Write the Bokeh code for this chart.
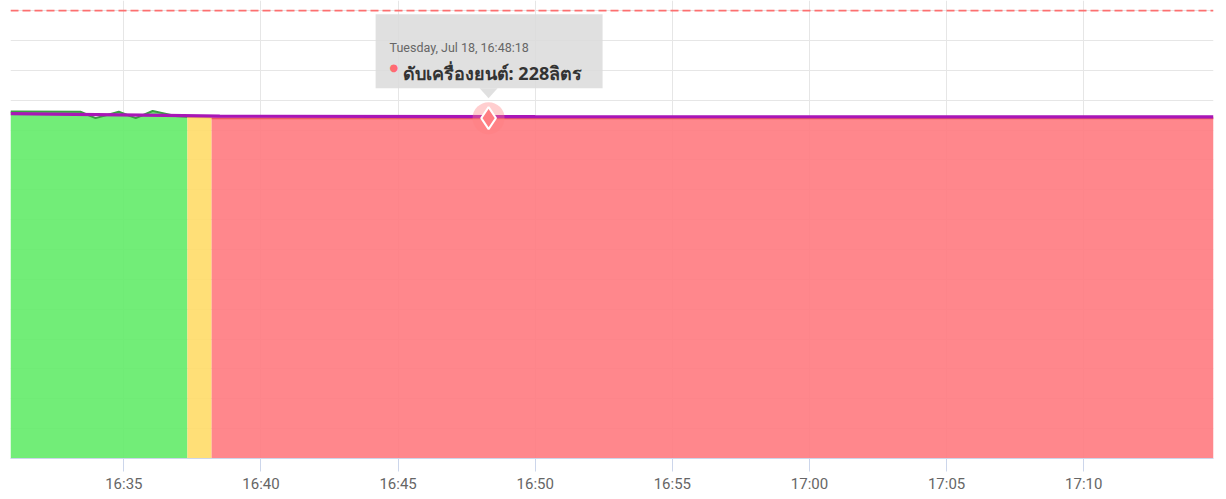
import datetime as dt
from bokeh.plotting import figure
from bokeh.models import Span, FixedTicker, DatetimeTickFormatter, Range1d
from bokeh.core.properties import value
from bokeh.embed import file_html
from bokeh.resources import INLINE

DAY = (2023, 7, 18)
EPOCH = dt.datetime(1970, 1, 1)

def T(s):
    h, m, sec = [int(v) for v in s.split(":")]
    return dt.datetime(*DAY, h, m, sec)

def ms(d):
    return (d - EPOCH).total_seconds() * 1000

# ---- data (litres) ----
green_times = ["16:30:52", "16:33:25", "16:33:58", "16:34:49", "16:35:26", "16:36:03", "16:36:53", "16:37:19"]
green_vals = [232.5, 232.3, 228.0, 232.3, 228.0, 232.8, 229.5, 229.0]
yellow_times = ["16:37:19", "16:38:12"]
yellow_vals = [228.8, 228.5]
red_times = ["16:38:12", "17:14:44"]
red_vals = [228.0, 228.0]
fuel_times = ["16:30:52", "16:34:00", "16:36:30", "16:38:30", "16:50:00", "17:14:44"]
fuel_vals = [231.0, 230.4, 229.8, 229.3, 229.0, 228.8]
capacity = 300
tick_times = ["16:35:00", "16:40:00", "16:45:00", "16:50:00", "16:55:00", "17:00:00", "17:05:00", "17:10:00"]
y_ticks = list(range(0, 301, 20))
tip_time = "16:48:18"
tip_val = 228
tip_title = "Tuesday, Jul 18, 16:48:18"
tip_text = "ดับเครื่องยนต์: 228ลิตร"

x_start, x_end = T("16:30:52"), T("17:14:44")
y_top = 306.8

W, H = 1226, 499
BL, BR, BT, BB = 10, 13, 0, 41
p = figure(width=W, height=H, x_axis_type="datetime", output_backend="svg",
           toolbar_location=None, x_range=Range1d(x_start, x_end),
           y_range=Range1d(0, y_top),
           min_border_left=BL, min_border_right=BR, min_border_top=BT, min_border_bottom=BB)
p.outline_line_color = None
p.background_fill_color = "white"
p.border_fill_color = "white"

frame_w = W - BL - BR
frame_h = H - BT - BB
ms_per_px = (x_end - x_start).total_seconds() * 1000 / frame_w
val_per_px = y_top / frame_h

# grid/axes
p.yaxis.visible = False
p.yaxis.ticker = FixedTicker(ticks=y_ticks)
p.ygrid.grid_line_color = "#e6e6e6"
p.xgrid.grid_line_color = "#e6e6e6"
p.xaxis.ticker = FixedTicker(ticks=[ms(T(t)) for t in tick_times])
p.xaxis.formatter = DatetimeTickFormatter(minutes="%H:%M", hours="%H:%M", minsec="%H:%M", seconds="%H:%M")
p.xaxis.axis_line_color = "#ccd6eb"
p.xaxis.major_tick_line_color = "#ccd6eb"
p.xaxis.major_tick_out = 13
p.xaxis.major_tick_in = 0
p.xaxis.minor_tick_line_color = None
p.xaxis.major_label_text_color = "#666666"
p.xaxis.major_label_text_font = "Roboto"
p.xaxis.major_label_text_font_size = "15px"
p.xaxis.major_label_standoff = 3

# areas
gx = [T(t) for t in green_times]
yx = [T(t) for t in yellow_times]
rx = [T(t) for t in red_times]
p.varea(x=gx, y1=[0] * len(gx), y2=green_vals, fill_color="#66ec6c", fill_alpha=0.92)
p.varea(x=yx, y1=[0] * len(yx), y2=yellow_vals, fill_color="#ffdc6b", fill_alpha=0.92)
p.varea(x=rx, y1=[0] * len(rx), y2=red_vals, fill_color="#ff7d82", fill_alpha=0.92)
p.line(gx, green_vals, line_color="#3a9e42", line_width=2)
p.line(yx, yellow_vals, line_color="#f2cc55", line_width=2)
p.line(rx, red_vals, line_color="#ec5a62", line_width=2)

# capacity line
p.add_layout(Span(location=capacity, dimension="width", line_color="#ff5a5a",
                  line_dash="8 4", line_width=1.6, line_alpha=0.85))

# fuel line
p.line([T(t) for t in fuel_times], fuel_vals, line_color="#a816b6", line_width=3.2)

# hover marker
tx = T(tip_time)
p.scatter([tx], [tip_val], size=32, fill_color="#ff7d82", fill_alpha=0.38, line_color=None)
p.scatter([tx], [tip_val], marker="diamond", size=22, fill_color="#ff7d82",
          line_color="white", line_width=2)

# tooltip
def dx(px):
    return tx + dt.timedelta(milliseconds=px * ms_per_px)

def dy(px):
    return tip_val + px * val_per_px

p.quad(left=[dx(-113)], right=[dx(114)], top=[dy(104)], bottom=[dy(30)],
       fill_color="#dadada", fill_alpha=0.85, line_color=None)
p.patch([dx(-9), dx(9), dx(0)], [dy(30), dy(30), dy(20)],
        fill_color="#dadada", fill_alpha=0.85, line_color=None)
p.text([tx], [tip_val], text=[tip_title], x_offset=-99, y_offset=-71,
       text_font=value("Roboto"), text_font_size="12.5px", text_color="#666666",
       text_baseline="alphabetic", text_align="left")
p.text([tx], [tip_val], text=["●"], x_offset=-99, y_offset=-51,
       text_font=value("DejaVu Sans"), text_font_size="10px", text_color="#ff6b72",
       text_baseline="middle", text_align="left")
p.text([tx], [tip_val], text=[tip_text], x_offset=-86, y_offset=-45,
       text_font=value("Noto Sans"), text_font_size="18px", text_font_style="bold",
       text_color="#333333", text_baseline="alphabetic", text_align="left")

open("out.html", "w").write(file_html(p, INLINE))
